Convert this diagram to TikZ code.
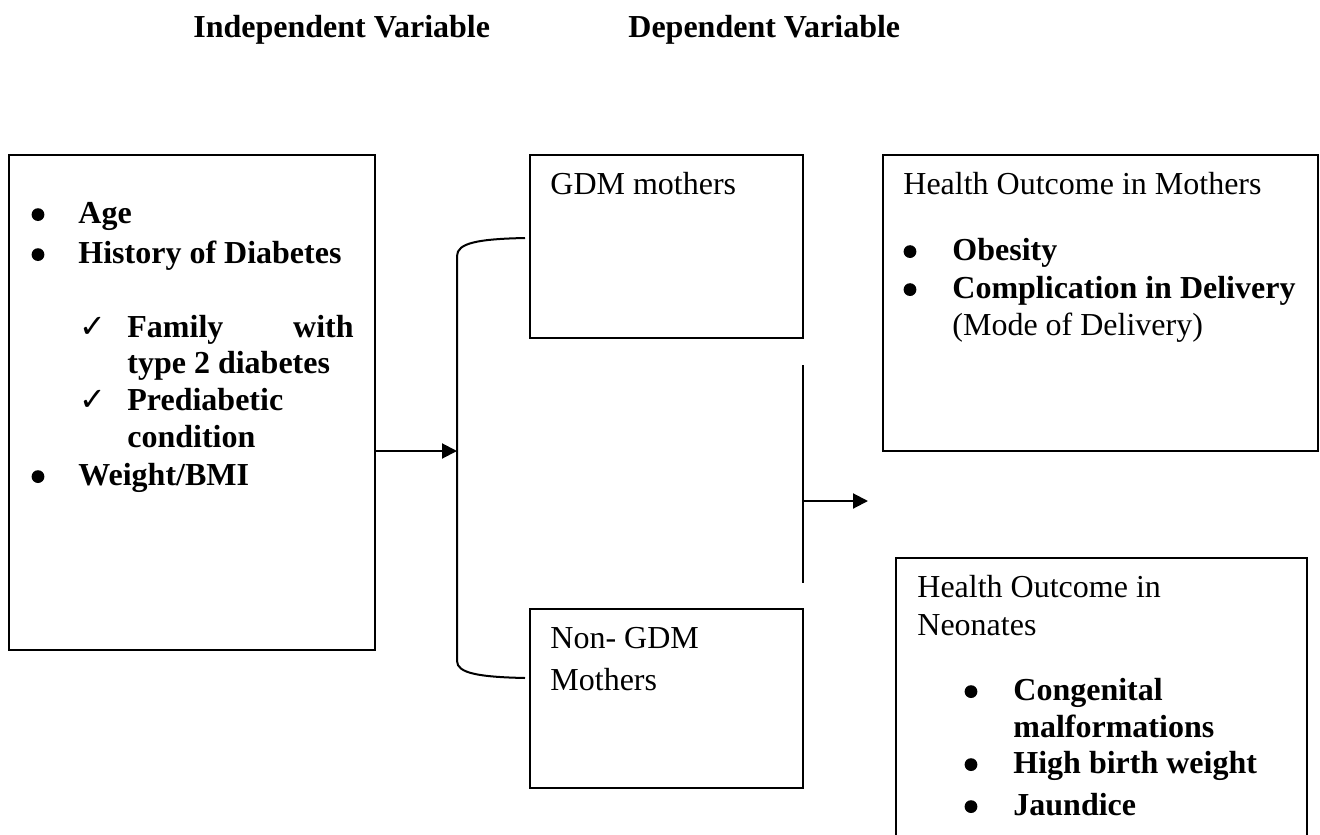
\documentclass[tikz,border=0pt]{standalone}
\usepackage{fontspec}
\setmainfont{Liberation Serif}
\newfontfamily\symfnt{DejaVu Sans}
\usetikzlibrary{fit,arrows.meta}
\tikzset{
  box/.style={draw, line width=1pt, inner sep=0pt},
  ghost/.style={inner sep=0pt},
  txt/.style={anchor=base west, inner sep=0pt, font=\fontsize{16}{18.5}\selectfont},
  btxt/.style={anchor=base west, inner sep=0pt, font=\fontsize{16}{18.5}\selectfont\bfseries},
  rbtxt/.style={anchor=base east, inner sep=0pt, font=\fontsize{16}{18.5}\selectfont\bfseries},
  head/.style={anchor=base west, inner sep=0pt, font=\fontsize{16}{18.5}\selectfont\bfseries},
  bul/.style={circle, fill, inner sep=0pt, minimum size=6.4pt, yshift=4.2pt},
  chk/.style={anchor=base west, inner sep=0pt, font=\fontsize{16}{16}\symfnt},
  conn/.style={line width=1pt},
  arr/.style={line width=1pt, -{Triangle[length=7.5pt,width=7.5pt]}}
}
\begin{document}
\begin{tikzpicture}[x=0.5pt,y=-0.5pt]
\useasboundingbox (0,0) rectangle (1320,834);
% headers
\node[head] (h1) at (193,38) {Independent Variable};
\node[head] (h2) at (628,38) {Dependent Variable};
% boxes
\node[box, fit={(9,155) (375,650)}] (indep) {};
\node[box, fit={(530,155) (803,338)}] (gdm) {};
\node[box, fit={(530,609) (803,788)}] (ngdm) {};
\node[box, fit={(883,155) (1318,451)}] (moth) {};
\node[ghost, fit={(896,558) (1307,840)}] (neo) {};
\draw[line width=1pt] (neo.south west) -- (neo.north west) -- (neo.north east) -- (neo.south east);
% left box text
\node[bul] (b1) at (38,223) {};
\node[btxt] (t1) at (78,223) {Age};
\node[bul] (b2) at (38,263) {};
\node[btxt] (t2) at (78,263) {History of Diabetes};
\node[chk] (c1) at (79,337) {✓};
\node[btxt] (t3) at (127,337) {Family};
\node[rbtxt] (t3b) at (354,337) {with};
\node[btxt] (t4) at (127,373) {type 2 diabetes};
\node[chk] (c2) at (79,410) {✓};
\node[btxt] (t5) at (127,410) {Prediabetic};
\node[btxt] (t6) at (127,447) {condition};
\node[bul] (b3) at (38,485) {};
\node[btxt] (t7) at (78,485) {Weight/BMI};
% middle boxes text
\node[txt] (g1) at (550,195) {GDM mothers};
\node[txt] (n1) at (550,648) {Non- GDM};
\node[txt] (n2) at (550,690) {Mothers};
% mothers outcome
\node[txt] (m0) at (903,195) {Health Outcome in Mothers};
\node[bul] (mb1) at (910,260) {};
\node[btxt] (m1) at (952,260) {Obesity};
\node[bul] (mb2) at (910,298) {};
\node[btxt] (m2) at (952,298) {Complication in Delivery};
\node[txt] (m3) at (952,335) {(Mode of Delivery)};
% neonates outcome
\node[txt] (e0) at (917,597) {Health Outcome in};
\node[txt] (e1) at (917,635) {Neonates};
\node[bul] (eb1) at (971,700) {};
\node[btxt] (e2) at (1013,700) {Congenital};
\node[btxt] (e3) at (1013,737) {malformations};
\node[bul] (eb2) at (971,773) {};
\node[btxt] (e4) at (1013,773) {High birth weight};
\node[bul] (eb3) at (971,815) {};
\node[btxt] (e5) at (1013,815) {Jaundice};
% connectors
\coordinate (brT) at (525,238);
\coordinate (brB) at (525,678);
\coordinate (brM) at (457,451);
\draw[conn] (brT) .. controls (478,239) and (457,243) .. (457,256) -- (457,661) .. controls (457,673) and (478,677) .. (brB);
\draw[arr] (indep.east |- brM) -- (brM);
\coordinate (vT) at (803,365);
\coordinate (vB) at (803,583);
\coordinate (vM) at (803,501);
\coordinate (aE) at (868,501);
\draw[conn] (vT) -- (vB);
\draw[arr] (vM) -- (aE);
\end{tikzpicture}
\end{document}
